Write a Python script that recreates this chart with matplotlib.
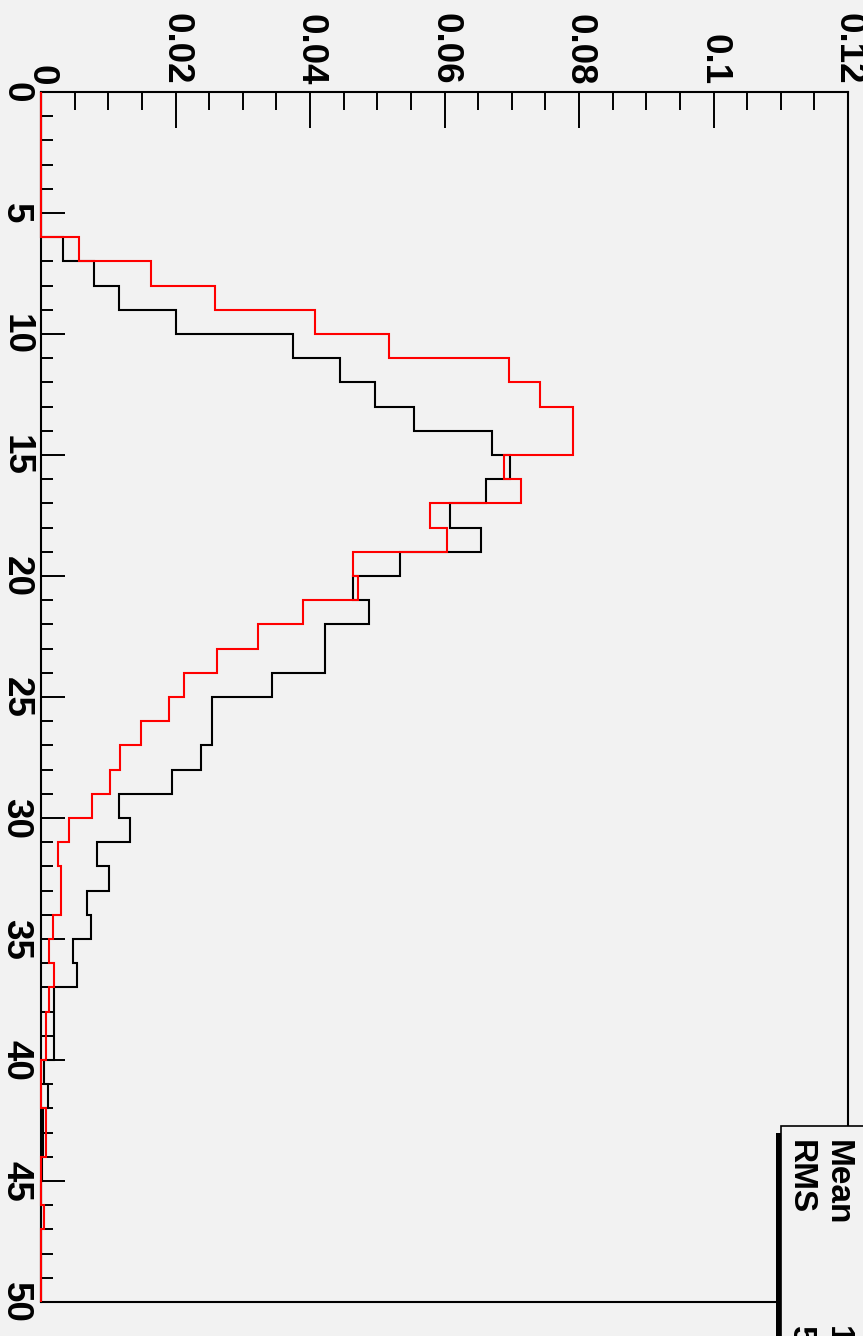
import matplotlib
matplotlib.use('Agg')
import matplotlib.pyplot as plt
import matplotlib.ticker as tck
from matplotlib.patches import Rectangle
import numpy as np

# data: two normalised histograms, 50 unit bins from 0 to 50
######################################################################
bin_edges = np.arange(0, 51)
black_vals = [0, 0, 0, 0, 0, 0, 0.0032, 0.0079, 0.0116, 0.0201,
              0.0375, 0.0444, 0.0496, 0.0555, 0.0671, 0.0697, 0.0661, 0.0608, 0.0655, 0.0534,
              0.0464, 0.0487, 0.0423, 0.0423, 0.0343, 0.0254, 0.0254, 0.0238, 0.0195, 0.0116,
              0.0132, 0.0084, 0.0101, 0.0069, 0.0074, 0.0047, 0.0053, 0.0020, 0.0020, 0.0020,
              0.0005, 0.0011, 0.0003, 0.0003, 0.0002, 0, 0, 0, 0, 0]
red_vals = [0, 0, 0, 0, 0, 0, 0.0057, 0.0163, 0.0259, 0.0407,
            0.0518, 0.0696, 0.0742, 0.0791, 0.0791, 0.0689, 0.0714, 0.0579, 0.0604, 0.0464,
            0.0471, 0.0389, 0.0323, 0.0262, 0.0213, 0.0190, 0.0148, 0.0118, 0.0103, 0.0076,
            0.0042, 0.0026, 0.0030, 0.0030, 0.0018, 0.0012, 0.0019, 0.0012, 0.0008, 0.0008,
            0, 0, 0.0007, 0.0007, 0, 0, 0.0004, 0, 0, 0]
value_ticks = [0, 0.02, 0.04, 0.06, 0.08, 0.1, 0.12]
value_tick_labels = ['0', '0.02', '0.04', '0.06', '0.08', '0.1', '0.12']
stat_names = ['Mean', 'RMS']
stat_values = ['19.27', '5.94']
######################################################################

plt.rcParams['font.family'] = ['Liberation Sans', 'DejaVu Sans']
plt.rcParams['font.weight'] = 'bold'
bg = '#f2f2f2'

W, H = 863, 1336
fig = plt.figure(figsize=(W / 100, H / 100), dpi=100, facecolor=bg)

# frame in pixels: left 41, right 848, top 92, bottom 1302
ax = fig.add_axes([41 / W, 1 - 1302 / H, (848 - 41) / W, (1302 - 92) / H])
ax.set_facecolor(bg)
ax.set_xlim(0, 0.12)
ax.set_ylim(50, 0)
for s in ax.spines.values():
    s.set_linewidth(1.5)

# histograms (rotated picture: bins run downward)
ax.stairs(black_vals, bin_edges, orientation='horizontal', baseline=0,
          color='black', lw=1.5, zorder=3, clip_on=False)
ax.stairs(red_vals, bin_edges, orientation='horizontal', baseline=0,
          color='red', lw=1.5, zorder=4, clip_on=False)

# value axis on top
ax.xaxis.tick_top()
ax.set_xticks(value_ticks)
ax.set_xticklabels(value_tick_labels)
ax.xaxis.set_minor_locator(tck.MultipleLocator(0.005))
ax.tick_params(axis='x', which='both', direction='in', top=True, bottom=False,
               labeltop=True, labelbottom=False, width=1.4)
ax.tick_params(axis='x', which='major', length=26, pad=5, labelsize=26.5, labelrotation=-90)
ax.tick_params(axis='x', which='minor', length=13)

# bin axis on the left
ax.yaxis.set_major_locator(tck.MultipleLocator(5))
ax.yaxis.set_minor_locator(tck.MultipleLocator(1))
ax.yaxis.set_major_formatter(tck.FormatStrFormatter('%d'))
ax.tick_params(axis='y', which='both', direction='in', left=True, right=False, width=1.4)
ax.tick_params(axis='y', which='major', length=17, pad=5.5, labelsize=26.5, labelrotation=-90)
ax.tick_params(axis='y', which='minor', length=8.5)
for lab in ax.get_yticklabels():
    lab.set_va('center')

# stats box, partly off the canvas
shadow = Rectangle((776 / W, -0.2), 0.3, 0.2 + (1336 - 1133) / H, transform=fig.transFigure,
                   facecolor='black', edgecolor='none', zorder=5)
box = Rectangle((781 / W, -0.2), 0.3, 0.2 + (1336 - 1126) / H, transform=fig.transFigure,
                facecolor=bg, edgecolor='black', lw=1.2, zorder=6)
fig.patches.extend([shadow, box])
stat_x = [837, 800]
for name, val, x in zip(stat_names, stat_values, stat_x):
    fig.text(x / W, 1 - 1140 / H, name, rotation=-90, ha='center', va='top',
             fontsize=24, zorder=7)
    fig.text(x / W, 1 - 1326 / H, val, rotation=-90, ha='center', va='top',
             fontsize=24, zorder=7)

fig.savefig('out.png', dpi=100, facecolor=bg)
